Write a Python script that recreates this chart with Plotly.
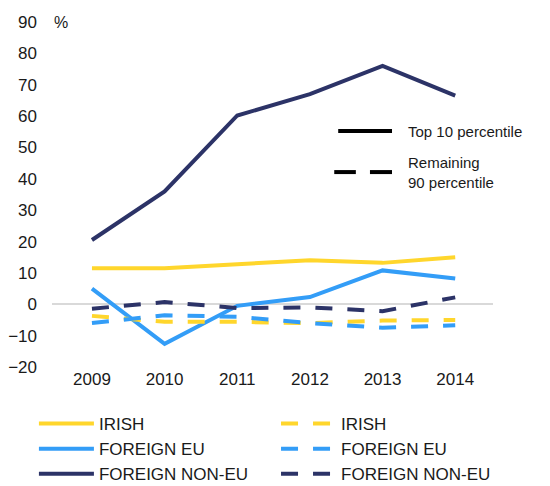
import plotly.graph_objects as go

years = ["2009", "2010", "2011", "2012", "2013", "2014"]

irish_top = [11.5, 11.5, 12.8, 14.0, 13.2, 15.0]
eu_top = [5.0, -12.6, -0.5, 2.3, 10.8, 8.2]
noneu_top = [20.5, 36.0, 60.2, 67.0, 76.0, 66.5]

irish_rest = [-3.7, -5.6, -5.6, -6.0, -5.2, -5.0]
eu_rest = [-6.0, -3.5, -4.0, -6.0, -7.5, -6.7]
noneu_rest = [-1.4, 0.7, -1.2, -1.0, -2.2, 2.2]

y_ticks = [-20, -10, 0, 10, 20, 30, 40, 50, 60, 70, 80, 90]

YELLOW = "#FFD62C"
BLUE = "#339DF7"
NAVY = "#2C3367"
DASH = "17px,15px"
FONT = "Liberation Sans, Arial, sans-serif"

fig = go.Figure()
series = [
    ("IRISH", irish_top, YELLOW, "solid", "legend"),
    ("FOREIGN EU", eu_top, BLUE, "solid", "legend"),
    ("FOREIGN NON-EU", noneu_top, NAVY, "solid", "legend"),
    ("IRISH", irish_rest, YELLOW, DASH, "legend2"),
    ("FOREIGN EU", eu_rest, BLUE, DASH, "legend2"),
    ("FOREIGN NON-EU", noneu_rest, NAVY, DASH, "legend2"),
]
for name, vals, col, dash, lg in series:
    fig.add_trace(go.Scatter(
        x=years, y=vals, name=name, mode="lines", legend=lg,
        line=dict(color=col, width=4, dash=dash),
    ))

# Top-right key
shapes = [
    dict(type="line", xref="paper", yref="paper", x0=0.649, x1=0.771, y0=0.684, y1=0.684,
         line=dict(color="black", width=4)),
    dict(type="line", xref="paper", yref="paper", x0=0.64, x1=0.689, y0=0.565, y1=0.565,
         line=dict(color="black", width=4)),
    dict(type="line", xref="paper", yref="paper", x0=0.721, x1=0.771, y0=0.565, y1=0.565,
         line=dict(color="black", width=4)),
]
annotations = [
    dict(text="Top 10 percentile", xref="paper", yref="paper", x=0.803, y=0.684,
         xanchor="left", yanchor="middle", showarrow=False, font=dict(size=15, color="#1a1a1a")),
    dict(text="Remaining<br>90 percentile", xref="paper", yref="paper", x=0.803, y=0.565,
         xanchor="left", yanchor="middle", align="left", showarrow=False,
         font=dict(size=15, color="#1a1a1a")),
    dict(text="%", xref="paper", yref="paper", x=0.0, y=1.0,
         xanchor="left", yanchor="middle", showarrow=False, font=dict(size=16, color="#1a1a1a")),
]

leg_common = dict(orientation="v", yanchor="top", xanchor="left", traceorder="normal",
                  font=dict(size=17), itemwidth=55, tracegroupgap=0,
                  bgcolor="rgba(0,0,0,0)")

fig.update_layout(
    width=550, height=486,
    margin=dict(l=44, r=65, t=14, b=127, autoexpand=False),
    paper_bgcolor="white", plot_bgcolor="white",
    font=dict(family=FONT, size=17, color="#1a1a1a"),
    shapes=shapes, annotations=annotations,
    showlegend=True,
    legend=dict(x=-0.041, y=-0.113, **leg_common),
    legend2=dict(x=0.508, y=-0.113, **leg_common),
)
fig.update_xaxes(showgrid=False, showline=False, zeroline=False, ticks="",
                 range=[-0.55, 5.52], tickfont=dict(size=17))
fig.update_yaxes(showgrid=False, showline=False, zeroline=True, zerolinecolor="#D9D9D9",
                 zerolinewidth=2, range=[-20, 90], tickvals=y_ticks, ticks="",
                 tickfont=dict(size=17), ticklabelstandoff=14)

fig.write_html("out.html")
